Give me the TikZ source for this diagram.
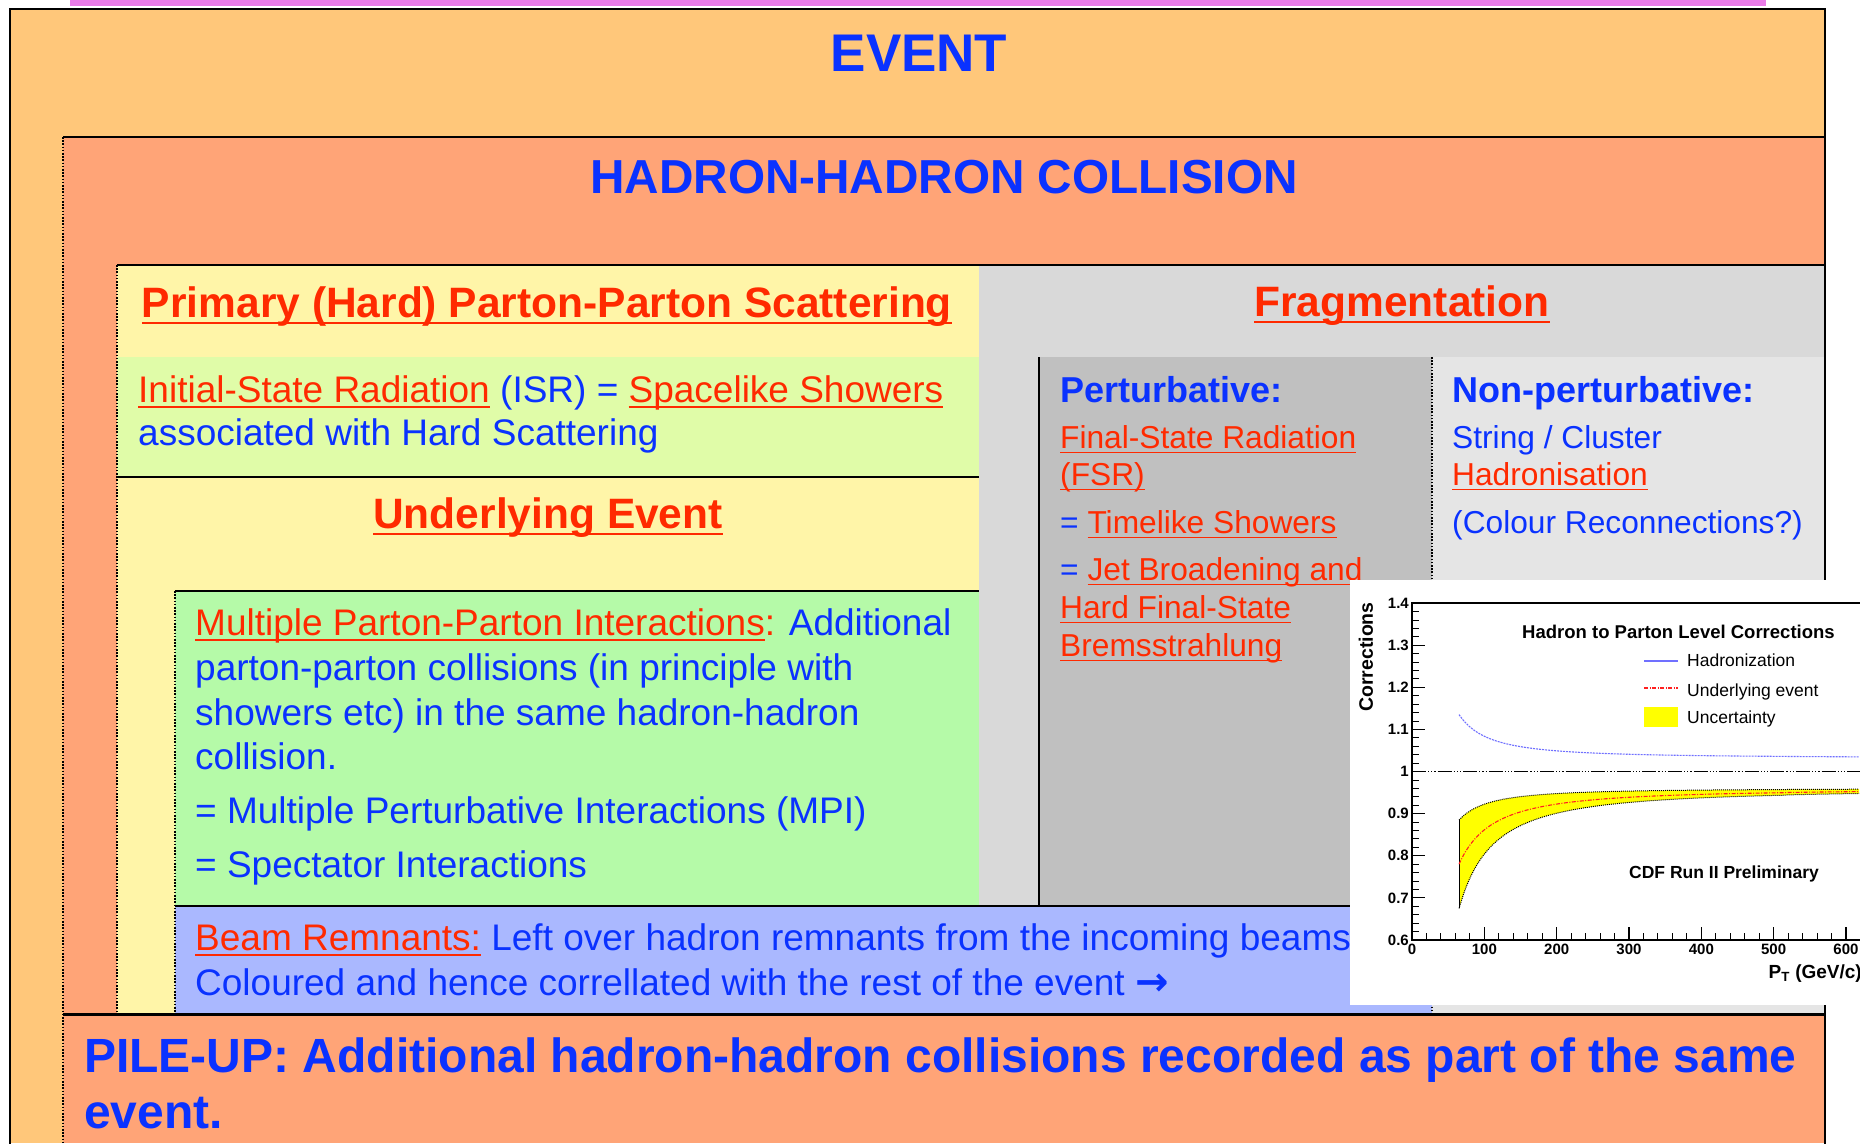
\documentclass[tikz,border=0pt]{standalone}
\usepackage{fontspec}
\setmainfont{Liberation Sans}
\newfontfamily\arrowfont{DejaVu Sans}
\definecolor{pinkbar}{HTML}{EA7CE8}
\definecolor{evorange}{HTML}{FFC77A}
\definecolor{salmon}{HTML}{FFA477}
\definecolor{primyellow}{HTML}{FFF5A8}
\definecolor{isrgreen}{HTML}{E0FCA8}
\definecolor{mpigreen}{HTML}{B5FAA8}
\definecolor{beamblue}{HTML}{AAB8FF}
\definecolor{fraggrey}{HTML}{D9D9D9}
\definecolor{pertgrey}{HTML}{C0C0C0}
\definecolor{npgrey}{HTML}{E5E5E5}
\definecolor{tblue}{HTML}{0A32FF}
\definecolor{tred}{HTML}{FF2A00}
\definecolor{hadblue}{HTML}{7070FF}
\definecolor{uered}{HTML}{FF2020}
\definecolor{bandyellow}{HTML}{FFFF00}
\newcommand\fs[1]{\fontsize{#1}{#1}\selectfont}
\newcommand\myul[1]{\setbox0\hbox{#1}\rlap{\rule[-0.17em]{\wd0}{0.055em}}\box0}
\newcommand\rd[1]{\textcolor{tred}{\myul{#1}}}
\tikzset{
  bodytxt/.style={anchor=base west, inner sep=0pt, text=tblue, font=\fs{37}},
  smalltxt/.style={anchor=base west, inner sep=0pt, text=tblue, font=\fs{31.7}},
  boldtxt/.style={anchor=base west, inner sep=0pt, text=tblue, font=\bfseries\fs{36}},
  headtxt/.style={anchor=base, inner sep=0pt, text=tred, font=\bfseries\fs{42.5}},
  dotline/.style={line width=1.6pt, dash pattern=on 1.6pt off 1.6pt},
  solidline/.style={line width=2.6pt},
  chtxt/.style={inner sep=0pt, text=black, font=\fs{17.5}},
  chbold/.style={inner sep=0pt, text=black, font=\bfseries\fs{15}},
}
\begin{document}
\begin{tikzpicture}[x=1pt,y=-1pt]
\useasboundingbox (0,0) rectangle (1860,1143);
\fill[white] (0,0) rectangle (1860,1143);
\fill[pinkbar] (70,0) rectangle (1766,6);
% boxes
\fill[evorange] (10,9) rectangle (1825,1143);
\fill[salmon] (63,137) rectangle (1825,1143);
\fill[primyellow] (117,265) rectangle (979,1014);
\fill[fraggrey] (979,265) rectangle (1825,1014);
\fill[isrgreen] (117,357) rectangle (979,477);
\fill[mpigreen] (175,591) rectangle (979,906);
\fill[pertgrey] (1039,357) rectangle (1432,906);
\fill[npgrey] (1432,357) rectangle (1825,1014);
\fill[beamblue] (175,906) rectangle (1432,1014);
% lines
\draw[solidline] (10,1150) -- (10,9) -- (1825,9) -- (1825,1150);
\draw[solidline] (63,137) -- (1825,137);
\draw[dotline] (63,137) -- (63,1143);
\draw[solidline] (117,265) -- (1825,265);
\draw[dotline] (117,265) -- (117,1014);
\draw[solidline] (117,477) -- (979,477);
\draw[solidline] (175,591) -- (979,591);
\draw[dotline] (175,591) -- (175,1014);
\draw[solidline] (175,906) -- (1432,906);
\draw[line width=2pt] (1039,357) -- (1039,906);
\draw[dotline] (1432,357) -- (1432,1014);
\draw[line width=3pt] (63,1014) -- (1825,1014);
% titles
\node[anchor=base, inner sep=0pt, text=tblue, font=\bfseries\fs{53}] (event) at (919,71) {EVENT};
\node[anchor=base, inner sep=0pt, text=tblue, font=\bfseries\fs{47.7}] (hh) at (944,193) {HADRON-HADRON COLLISION};
\node[headtxt] (prim) at (547,317) {\myul{Primary (Hard) Parton-Parton Scattering}};
\node[headtxt] (frag) at (1402,316) {\myul{Fragmentation}};
\node[headtxt] (ue) at (548,528) {\myul{Underlying Event}};
% ISR
\node[bodytxt] (isr1) at (138,402) {\rd{Initial-State Radiation} (ISR) = \rd{Spacelike Showers}};
\node[bodytxt] (isr2) at (138,445) {associated with Hard Scattering};
% MPI
\node[bodytxt] (mpi1) at (195,635) {\textcolor{tred}{\myul{Multiple Parton-Parton Interactions}:} Additional};
\node[bodytxt] (mpi2) at (195,680) {parton-parton collisions (in principle with};
\node[bodytxt] (mpi3) at (195,725) {showers etc) in the same hadron-hadron};
\node[bodytxt] (mpi4) at (195,769) {collision.};
\node[bodytxt] (mpi5) at (195,823) {= Multiple Perturbative Interactions (MPI)};
\node[bodytxt] (mpi6) at (195,877) {= Spectator Interactions};
% beam
\node[bodytxt] (beam1) at (195,950) {\rd{Beam Remnants:} Left over hadron remnants from the incoming beams};
\node[bodytxt] (beam2) at (195,995) {Coloured and hence correllated with the rest of the event {\arrowfont\bfseries\fs{40}→}};
% perturbative
\node[boldtxt] (pert) at (1060,402) {Perturbative:};
\node[smalltxt] (p1) at (1060,448) {\rd{Final-State Radiation}};
\node[smalltxt] (p2) at (1060,485) {\rd{(FSR)}};
\node[smalltxt] (p3) at (1060,533) {= \rd{Timelike Showers}};
\node[smalltxt] (p4) at (1060,580) {= \rd{Jet Broadening and}};
\node[smalltxt] (p5) at (1060,618) {\rd{Hard Final-State}};
\node[smalltxt] (p6) at (1060,656) {\rd{Bremsstrahlung}};
% non-perturbative
\node[boldtxt] (npert) at (1452,402) {Non-perturbative:};
\node[smalltxt] (n1) at (1452,448) {String / Cluster};
\node[smalltxt] (n2) at (1452,485) {\rd{Hadronisation}};
\node[smalltxt] (n3) at (1452,533) {(Colour Reconnections?)};
% pile-up
\node[anchor=base west, inner sep=0pt, text=tblue, font=\bfseries\fs{48}] (pu1) at (84,1072) {PILE-UP: Additional hadron-hadron collisions recorded as part of the same};
\node[anchor=base west, inner sep=0pt, text=tblue, font=\bfseries\fs{48}] (pu2) at (84,1128) {event.};
% chart
\fill[white] (1350,580) rectangle (1860,1005);
\begin{scope}[shift={(1412,940)}, x=0.7233pt, y=421.25pt]
  \fill[bandyellow] plot[domain=65:618, samples=80, smooth] (\x,{0.36-0.075*(65/\x)^1.6})
     -- plot[domain=618:65, samples=80, smooth] (\x,{0.36-0.285*(65/\x)^1.4}) -- cycle;
  \draw[line width=1pt, dash pattern=on 1pt off 1pt] plot[domain=65:618, samples=80, smooth] (\x,{0.36-0.075*(65/\x)^1.6});
  \draw[line width=1pt, dash pattern=on 1pt off 1pt] plot[domain=65:618, samples=80, smooth] (\x,{0.36-0.285*(65/\x)^1.4});
  \draw[line width=1pt] (65,{0.36-0.075}) -- (65,{0.36-0.285});
  \draw[uered, line width=1.1pt, dash pattern=on 4pt off 1.5pt on 1pt off 1.5pt] plot[domain=65:618, samples=80, smooth] (\x,{0.36-0.18*(65/\x)^1.4});
  \draw[hadblue, line width=1.1pt, dash pattern=on 2pt off 1pt] plot[domain=65:618, samples=80, smooth] (\x,{0.432+0.103*(65/\x)^1.6});
  \draw[line width=1.3pt, dash pattern=on 14pt off 2pt on 1.2pt off 2pt on 1.2pt off 2pt on 1.2pt off 2pt] (0,0.4) -- (619,0.4);
  \draw[line width=1.4pt] (620,0.8) -- (0,0.8) -- (0,0) -- (620,0);
  \foreach \v in {0,0.1,...,0.81} \draw[line width=1.2pt] (0,\v) -- (18,\v);
  \foreach \v in {0.02,0.04,...,0.79} \draw[line width=1pt] (0,\v) -- (9.5,\v);
  \foreach \p in {0,100,...,600} \draw[line width=1.2pt] (\p,0) -- (\p,0.031);
  \foreach \p in {20,40,...,610} \draw[line width=1pt] (\p,0) -- (\p,0.0166);
\end{scope}
\foreach \k/\t in {0/0.6,1/0.7,2/0.8,3/0.9,4/1,5/1.1,6/1.2,7/1.3,8/1.4}
  \node[chbold, anchor=east] (yl\k) at (1409,{940-\k*42.125}) {\t};
\foreach \p in {0,100,...,600}
  \node[chbold, anchor=north] (xl\p) at ({1412+\p*0.7233},944) {\p};
\node[chbold, font=\bfseries\fs{19.5}, rotate=90, anchor=center] (ylab) at (1366,657) {Corrections};
\node[chbold, font=\bfseries\fs{19}, anchor=base east] (xlab) at (1862,978) {P\textsubscript{T} (GeV/c)};
\node[chbold, font=\bfseries\fs{18.5}, anchor=base west] (ctitle) at (1522,638) {Hadron to Parton Level Corrections};
\coordinate (lg1a) at (1644,661);
\coordinate (lg1b) at (1678,661);
\draw[hadblue, line width=1.3pt] (lg1a) -- (lg1b);
\node[chtxt, anchor=base west] (lgh) at (1687,666) {Hadronization};
\coordinate (lg2a) at (1644,688);
\coordinate (lg2b) at (1678,688);
\draw[uered, line width=1.3pt, dash pattern=on 4pt off 1.5pt on 1pt off 1.5pt] (lg2a) -- (lg2b);
\node[chtxt, anchor=base west] (lgu) at (1687,696) {Underlying event};
\fill[bandyellow] (1644,707) rectangle (1678,727);
\node[chtxt, anchor=base west] (lgc) at (1687,723) {Uncertainty};
\node[chbold, font=\bfseries\fs{17.5}, anchor=base west] (cdf) at (1629,878) {CDF Run II Preliminary};
\end{tikzpicture}
\end{document}
